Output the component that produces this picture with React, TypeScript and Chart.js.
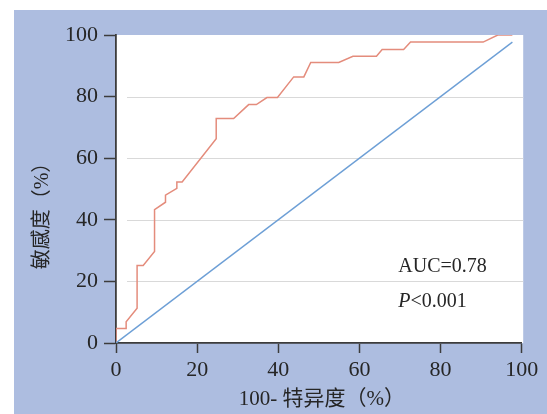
import { useEffect, useRef } from "react";
import { Chart, registerables } from "chart.js";

Chart.register(...registerables);

// ROC curve (x = 100 - specificity, y = sensitivity), in %
const rocX = [0, 0, 2.5, 2.5, 5.2, 5.2, 6.7, 9.5, 9.5, 12.2, 12.2, 15.0, 15.0, 16.3, 24.7, 24.7, 29.0, 32.7, 34.6, 37.2, 39.8, 43.8, 46.3, 48.0, 54.9, 58.4, 64.2, 65.6, 70.9, 72.6, 90.5, 94.1, 97.7];
const rocY = [0, 4.7, 4.7, 6.9, 11.3, 25.2, 25.2, 29.7, 43.3, 45.7, 48.0, 50.2, 52.3, 52.3, 66.3, 72.9, 72.9, 77.4, 77.4, 79.7, 79.7, 86.4, 86.4, 91.1, 91.1, 93.1, 93.1, 95.3, 95.3, 97.7, 97.7, 100, 100];
// reference diagonal
const refX = [0, 97.7];
const refY = [0, 97.7];

const xTicks = [0, 20, 40, 60, 80, 100];
const yTicks = [0, 20, 40, 60, 80, 100];
const gridValues = [20, 40, 60, 80];

const xTitle = "100- 特异度（%）";
const yTitle = "敏感度（%）";
const aucLabel = "AUC=0.78";
const pItalic = "P";
const pRest = "<0.001";
const annotX = 69.6;
const aucY = 23.1;
const pY = 11.7;

const FONT = '"Liberation Serif", "Noto Sans CJK SC", serif';
const TITLE_FONT = '"Liberation Serif", "Noto Sans CJK TC", serif';
const TEXT = "#262626";
const AXIS = "#3c3c3c";
const BG = "#adbde0";
const GRID = "#d9d9d9";
const ROC = "#e48c7c";
const DIAG = "#6d9fd6";

const decorPlugin = {
  id: "decor",
  beforeDraw(chart: any) {
    const { ctx, chartArea: a, width, height } = chart;
    ctx.save();
    ctx.fillStyle = BG;
    ctx.fillRect(14, 10, width - 14, height - 10);
    ctx.fillStyle = "#ffffff";
    ctx.fillRect(a.left, a.top, a.right - a.left + 1.5, a.bottom - a.top);
    ctx.restore();
  },
  beforeDatasetsDraw(chart: any) {
    const { ctx, chartArea: a } = chart;
    const y = chart.scales.y;
    ctx.save();
    ctx.strokeStyle = GRID;
    ctx.lineWidth = 1.2;
    gridValues.forEach((v) => {
      const py = Math.round(y.getPixelForValue(v)) + 0.5;
      ctx.beginPath();
      ctx.moveTo(a.left + 11, py);
      ctx.lineTo(a.right + 1.5, py);
      ctx.stroke();
    });
    ctx.restore();
  },
  afterDraw(chart: any) {
    const { ctx, chartArea: a } = chart;
    const xs = chart.scales.x;
    const ys = chart.scales.y;
    ctx.save();
    ctx.fillStyle = TEXT;
    // x title
    ctx.font = `21px ${TITLE_FONT}`;
    ctx.textAlign = "center";
    ctx.textBaseline = "middle";
    ctx.fillText(xTitle, (a.left + a.right) / 2 + 3, a.bottom + 56);
    // y title
    ctx.save();
    ctx.translate(a.left - 73.5, (a.top + a.bottom) / 2 + 22);
    ctx.rotate(-Math.PI / 2);
    ctx.font = `20px ${TITLE_FONT}`;
    ctx.fillText(yTitle, 0, 0);
    ctx.restore();
    // annotation
    ctx.textAlign = "left";
    ctx.textBaseline = "alphabetic";
    const ax = xs.getPixelForValue(annotX);
    ctx.font = `20px ${FONT}`;
    ctx.fillText(aucLabel, ax, ys.getPixelForValue(aucY));
    ctx.font = `italic 20px ${FONT}`;
    const pyy = ys.getPixelForValue(pY);
    ctx.fillText(pItalic, ax, pyy);
    const w = ctx.measureText(pItalic).width;
    ctx.font = `20px ${FONT}`;
    ctx.fillText(pRest, ax + w, pyy);
    ctx.restore();
  },
};

export default function App() {
  const ref = useRef<HTMLCanvasElement | null>(null);
  useEffect(() => {
    if (!ref.current) return;
    const chart = new Chart(ref.current, {
      type: "line",
      data: {
        datasets: [
          {
            data: refX.map((x, i) => ({ x, y: refY[i] })),
            borderColor: DIAG,
            borderWidth: 1.4,
            pointRadius: 0,
            tension: 0,
          },
          {
            data: rocX.map((x, i) => ({ x, y: rocY[i] })),
            borderColor: ROC,
            borderWidth: 1.5,
            pointRadius: 0,
            tension: 0,
          },
        ],
      },
      options: {
        animation: false,
        responsive: false,
        events: [],
        layout: { padding: { top: 35, right: 25.3, left: 0, bottom: 0 } },
        plugins: { legend: { display: false }, tooltip: { enabled: false } },
        scales: {
          x: {
            type: "linear",
            min: 0,
            max: 100,
            afterBuildTicks: (s: any) => {
              s.ticks = xTicks.map((v) => ({ value: v }));
            },
            afterFit: (s: any) => {
              s.height = 71;
            },
            grid: { drawOnChartArea: false, drawTicks: true, tickLength: 10, tickColor: AXIS, tickWidth: 1.5 },
            border: { color: AXIS, width: 1.8 },
            ticks: { color: TEXT, font: { family: FONT, size: 22 }, padding: 4, maxRotation: 0, autoSkip: false },
          },
          y: {
            type: "linear",
            min: 0,
            max: 100,
            afterBuildTicks: (s: any) => {
              s.ticks = yTicks.map((v) => ({ value: v }));
            },
            afterFit: (s: any) => {
              s.width = 116;
            },
            grid: { drawOnChartArea: false, drawTicks: true, tickLength: 12, tickColor: AXIS, tickWidth: 1.5 },
            border: { color: AXIS, width: 1.8 },
            ticks: { color: TEXT, font: { family: FONT, size: 22 }, padding: 6, autoSkip: false },
          },
        },
      },
      plugins: [decorPlugin],
    });
    return () => chart.destroy();
  }, []);
  return (
    <div style={{ position: "absolute", left: 0, top: 0, width: 547, height: 414 }}>
      <canvas ref={ref} width={547} height={414} style={{ width: 547, height: 414, display: "block" }} />
    </div>
  );
}
